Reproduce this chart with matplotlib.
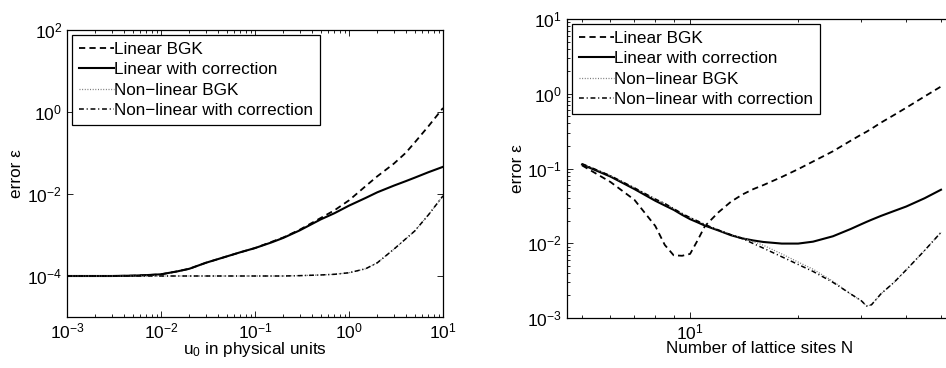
import numpy as np
import matplotlib
matplotlib.use('Agg')
from matplotlib import pyplot as plt
from matplotlib.ticker import LogLocator, NullLocator, NullFormatter, FixedLocator

plt.rcParams['font.family'] = ['Liberation Sans', 'DejaVu Sans']
plt.rcParams['mathtext.default'] = 'regular'
plt.rcParams['lines.scale_dashes'] = False

labels = ['Linear BGK', 'Linear with correction',
          'Non\u2212linear BGK', 'Non\u2212linear with correction']

# left panel: error vs u0
u0 = [0.001, 0.002, 0.003, 0.005, 0.007, 0.01, 0.015, 0.02, 0.03, 0.05, 0.07,
      0.1, 0.15, 0.2, 0.3, 0.5, 0.7, 1, 1.5, 2, 3, 4, 5, 7, 10]
lin_bgk_u = [1e-4, 1e-4, 1e-4, 1.02e-4, 1.05e-4, 1.1e-4, 1.3e-4, 1.5e-4, 2.1e-4, 3e-4, 3.8e-4,
             4.8e-4, 6.8e-4, 8.7e-4, 1.35e-3, 2.6e-3, 4e-3, 7e-3, 0.0155, 0.027, 0.055, 0.1, 0.18, 0.45, 1.25]
lin_cor_u = [1e-4, 1e-4, 1e-4, 1.02e-4, 1.05e-4, 1.1e-4, 1.3e-4, 1.5e-4, 2.1e-4, 3e-4, 3.8e-4,
             4.8e-4, 6.6e-4, 8.5e-4, 1.3e-3, 2.4e-3, 3.4e-3, 5.2e-3, 8e-3, 0.011, 0.016, 0.0205, 0.025, 0.034, 0.046]
nl_bgk_u = [1e-4, 1e-4, 1e-4, 1e-4, 1e-4, 1e-4, 1e-4, 1e-4, 1e-4, 1e-4, 1e-4,
            1e-4, 1e-4, 1e-4, 1.02e-4, 1.06e-4, 1.1e-4, 1.2e-4, 1.5e-4, 2.1e-4, 4.5e-4, 8e-4, 1.25e-3, 3.1e-3, 9e-3]
nl_cor_u = [1e-4, 1e-4, 1e-4, 1e-4, 1e-4, 1e-4, 1e-4, 1e-4, 1e-4, 1e-4, 1e-4,
            1e-4, 1e-4, 1e-4, 1.02e-4, 1.06e-4, 1.1e-4, 1.2e-4, 1.5e-4, 2.1e-4, 4.5e-4, 8e-4, 1.25e-3, 3.1e-3, 9e-3]

# right panel: error vs N
N = [5, 6, 7, 8, 8.5, 9, 9.5, 10, 10.5, 11, 12, 13, 14, 15, 16, 18, 20, 22, 25,
     28, 30, 31, 32, 34, 37, 40, 45, 50]
lin_bgk_n = [0.11, 0.066, 0.038, 0.017, 0.0095, 0.0069, 0.0068, 0.0072, 0.011, 0.017, 0.026, 0.036, 0.045,
             0.053, 0.06, 0.077, 0.098, 0.124, 0.17, 0.235, 0.285, 0.31, 0.34, 0.41, 0.52, 0.65, 0.92, 1.25]
lin_cor_n = [0.113, 0.078, 0.053, 0.037, 0.032, 0.028, 0.024, 0.021, 0.019, 0.0172, 0.0148, 0.0128, 0.0116,
             0.0109, 0.0104, 0.0099, 0.0099, 0.0105, 0.0124, 0.0155, 0.018, 0.0193, 0.0206, 0.0232, 0.027, 0.031, 0.04, 0.052]
nl_bgk_n = [0.116, 0.08, 0.055, 0.039, 0.034, 0.029, 0.025, 0.022, 0.0198, 0.0178, 0.015, 0.013, 0.0118,
            0.0105, 0.0094, 0.0072, 0.0056, 0.0045, 0.0031, 0.0021, 0.0017, 0.00145, 0.0015, 0.0021, 0.003, 0.0044, 0.008, 0.014]
nl_cor_n = [0.116, 0.08, 0.055, 0.039, 0.034, 0.029, 0.025, 0.022, 0.0198, 0.0178, 0.015, 0.013, 0.0115,
            0.0099, 0.0086, 0.0066, 0.0052, 0.0042, 0.003, 0.0021, 0.0017, 0.00145, 0.0015, 0.0021, 0.003, 0.0044, 0.008, 0.014]

styles = [dict(color='k', lw=1.3, dashes=(4.5, 3)),
          dict(color='k', lw=1.5, ls='-'),
          dict(color='0.45', lw=0.9, dashes=(0.7, 1.2)),
          dict(color='k', lw=1.1, dashes=(3.5, 2, 0.8, 2))]

W, H = 946, 368
fig = plt.figure(figsize=(W / 100, H / 100), dpi=100)

def box(l, t, r, b):
    return [l / W, 1 - b / H, (r - l) / W, (b - t) / H]

def style_ax(ax):
    for s in ax.spines.values():
        s.set_linewidth(0.9)
    ax.tick_params(which='both', direction='in', top=True, right=True, labelsize=12.5, width=0.6)
    ax.tick_params(which='major', length=4)
    ax.tick_params(which='minor', length=2.2)

def legend(ax):
    lg = ax.legend(loc='upper left', fontsize=12.3, frameon=True, fancybox=False,
                   edgecolor='k', handlelength=2.05, handletextpad=0.05, labelspacing=0.32,
                   borderpad=0.38, borderaxespad=0.3, framealpha=1)
    lg.get_frame().set_linewidth(0.9)

# left
ax1 = fig.add_axes(box(67, 30, 443, 317))
for y, lab, st in zip([lin_bgk_u, lin_cor_u, nl_bgk_u, nl_cor_u], labels, styles):
    ax1.plot(u0, y, label=lab, **st)
ax1.set_xscale('log')
ax1.set_yscale('log')
ax1.set_xlim(1e-3, 10)
ax1.set_ylim(1e-5, 1e2)
ax1.yaxis.set_major_locator(FixedLocator([1e-4, 1e-2, 1e0, 1e2]))
ax1.yaxis.set_minor_locator(NullLocator())
ax1.xaxis.set_minor_locator(LogLocator(subs=np.arange(2, 10)))
ax1.xaxis.set_minor_formatter(NullFormatter())
style_ax(ax1)
ax1.set_xlabel('u$_0$ in physical units', fontsize=12.3, labelpad=-1)
ax1.set_ylabel('error \u03b5', fontsize=12.3, labelpad=2)
legend(ax1)

# right
ax2 = fig.add_axes(box(567, 19, 953, 318))
for y, lab, st in zip([lin_bgk_n, lin_cor_n, nl_bgk_n, nl_cor_n], labels, styles):
    ax2.plot(N, y, label=lab, **st)
ax2.set_xscale('log')
ax2.set_yscale('log')
ax2.set_xlim(4.54, 54)
ax2.set_ylim(1e-3, 1e1)
ax2.xaxis.set_major_locator(FixedLocator([10]))
ax2.xaxis.set_minor_locator(FixedLocator([5, 6, 7, 8, 9, 20, 30, 40, 50]))
ax2.xaxis.set_minor_formatter(NullFormatter())
ax2.yaxis.set_minor_locator(LogLocator(subs=np.arange(2, 10)))
ax2.yaxis.set_minor_formatter(NullFormatter())
style_ax(ax2)
ax2.set_xlabel('Number of lattice sites N', fontsize=12.3, labelpad=-1)
ax2.set_ylabel('error \u03b5', fontsize=12.3, labelpad=2)
legend(ax2)

fig.savefig('out.png', dpi=100)
